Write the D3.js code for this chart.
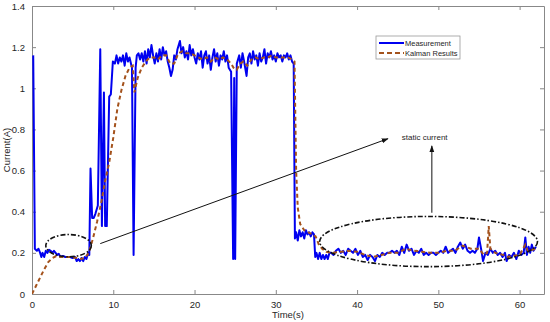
<!DOCTYPE html>
<html>
<head>
<meta charset="utf-8">
<script src="https://cdn.jsdelivr.net/npm/d3@7"></script>
<style>
body { margin: 0; background: #fff; }
text { font-family: "Liberation Sans", Arial, sans-serif; fill: #262626; }
</style>
</head>
<body>
<div id="chart"></div>
<script>
//DATA
var xTicks = [0, 10, 20, 30, 40, 50, 60];
var yTicks = [0, 0.2, 0.4, 0.6, 0.8, 1, 1.2, 1.4];
var seriesNames = ["Measurement", "Kalman Results"];

// measured current [time(s), current(A)]
var measurement = [
    [0.15, 1.16], [0.35, 0.22], [0.6, 0.21], [0.8, 0.22], [1.0, 0.2], [1.15, 0.18], [1.3, 0.2], [1.5, 0.18],
    [1.7, 0.21], [1.9, 0.2], [2.1, 0.215], [2.3, 0.21], [2.5, 0.2], [2.7, 0.21], [2.9, 0.2], [3.1, 0.19],
    [3.3, 0.195], [3.5, 0.18], [3.8, 0.185], [4.1, 0.18], [4.4, 0.18], [4.7, 0.18], [5.0, 0.175], [5.3, 0.18],
    [5.5, 0.16], [5.7, 0.17], [5.9, 0.16], [6.1, 0.175], [6.3, 0.16], [6.5, 0.18], [6.7, 0.17], [6.9, 0.2],
    [7.05, 0.19], [7.2, 0.61], [7.4, 0.37], [7.6, 0.37], [7.8, 0.39], [8.1, 0.43], [8.4, 1.19], [8.6, 0.33],
    [8.85, 0.98], [9.0, 0.33], [9.2, 0.33], [9.5, 0.96], [9.7, 0.97], [9.95, 1.13],
    [10.2, 1.12], [10.4, 1.16], [10.6, 1.12], [10.8, 1.15], [11.0, 1.13], [11.2, 1.16], [11.4, 1.11], [11.6, 1.17],
    [11.8, 1.13], [12.0, 1.15], [12.3, 1.1], [12.5, 0.19], [12.75, 1.1], [12.9, 1.16], [13.1, 1.17], [13.3, 1.14],
    [13.5, 1.17], [13.7, 1.13], [13.9, 1.18], [14.1, 1.12], [14.3, 1.19], [14.5, 1.15], [14.7, 1.21], [14.9, 1.16],
    [15.1, 1.12], [15.3, 1.17], [15.5, 1.13], [15.7, 1.19], [15.9, 1.14], [16.1, 1.2], [16.3, 1.16], [16.5, 1.18],
    [16.7, 1.13], [16.9, 1.1], [17.1, 1.06], [17.3, 1.09], [17.5, 1.16], [17.7, 1.14], [17.9, 1.19], [18.2, 1.23],
    [18.4, 1.17], [18.6, 1.2], [18.8, 1.15], [19.0, 1.18], [19.2, 1.14], [19.4, 1.21], [19.6, 1.16], [19.8, 1.19],
    [20.0, 1.15], [20.2, 1.12], [20.4, 1.17], [20.6, 1.14], [20.8, 1.18], [21.0, 1.1], [21.2, 1.16], [21.4, 1.18],
    [21.6, 1.12], [21.8, 1.16], [22.0, 1.09], [22.2, 1.15], [22.4, 1.19], [22.6, 1.13], [22.8, 1.17], [23.0, 1.11],
    [23.2, 1.16], [23.4, 1.14], [23.6, 1.18], [23.8, 1.13], [24.0, 1.16], [24.2, 1.1], [24.5, 1.08], [24.75, 0.17],
    [24.88, 1.05], [25.0, 0.17], [25.2, 1.12], [25.5, 1.16], [25.7, 1.1], [25.9, 1.17], [26.1, 1.13], [26.4, 1.06],
    [26.6, 1.15], [26.8, 1.17], [27.0, 1.12], [27.2, 1.18], [27.4, 1.14], [27.6, 1.16], [27.8, 1.11], [28.0, 1.17],
    [28.2, 1.13], [28.4, 1.15], [28.6, 1.19], [28.8, 1.12], [29.0, 1.17], [29.2, 1.15], [29.4, 1.18], [29.6, 1.14],
    [29.8, 1.16], [30.0, 1.13], [30.2, 1.17], [30.4, 1.15], [30.6, 1.16], [30.8, 1.13], [31.0, 1.16], [31.2, 1.15],
    [31.4, 1.17], [31.6, 1.14], [31.8, 1.16], [32.0, 1.13], [32.2, 1.12],
    [32.35, 0.27], [32.5, 0.3], [32.7, 0.26], [32.9, 0.31], [33.1, 0.28], [33.3, 0.3], [33.5, 0.27], [33.7, 0.31],
    [33.9, 0.29], [34.1, 0.3], [34.3, 0.28], [34.5, 0.3], [34.7, 0.29], [34.85, 0.18], [35.0, 0.2], [35.2, 0.17],
    [35.4, 0.2], [35.6, 0.17], [35.8, 0.19], [36.0, 0.17], [36.2, 0.19], [36.4, 0.17], [36.6, 0.2],
    [36.8, 0.2], [37.1, 0.19], [37.4, 0.21], [37.7, 0.22], [38.0, 0.2], [38.3, 0.21], [38.6, 0.19], [38.9, 0.22],
    [39.2, 0.21], [39.5, 0.2], [39.8, 0.22], [40.1, 0.19], [40.4, 0.21], [40.7, 0.18], [41.0, 0.19], [41.3, 0.165],
    [41.6, 0.19], [41.9, 0.18], [42.2, 0.16], [42.5, 0.19], [42.8, 0.18], [43.1, 0.2], [43.4, 0.19], [43.7, 0.2],
    [44.0, 0.2], [44.3, 0.21], [44.6, 0.2], [44.9, 0.21], [45.2, 0.19], [45.5, 0.23], [45.8, 0.2], [46.1, 0.24],
    [46.4, 0.21], [46.7, 0.22], [47.0, 0.19], [47.3, 0.21], [47.6, 0.2], [47.9, 0.22], [48.2, 0.19], [48.5, 0.2],
    [48.8, 0.19], [49.1, 0.2], [49.4, 0.2], [49.7, 0.19], [50.0, 0.2], [50.3, 0.21], [50.6, 0.2], [50.9, 0.23],
    [51.2, 0.2], [51.5, 0.21], [51.8, 0.22], [52.1, 0.2], [52.4, 0.23], [52.7, 0.25], [53.0, 0.22], [53.3, 0.24],
    [53.6, 0.21], [53.9, 0.2], [54.2, 0.21], [54.5, 0.2], [54.8, 0.22], [55.0, 0.275], [55.3, 0.21], [55.5, 0.16],
    [55.8, 0.2], [56.1, 0.19], [56.4, 0.22], [56.7, 0.2], [57.0, 0.21], [57.3, 0.19], [57.6, 0.2], [57.9, 0.18],
    [58.2, 0.2], [58.4, 0.16], [58.7, 0.19], [59.0, 0.18], [59.3, 0.2], [59.6, 0.17], [59.9, 0.21], [60.2, 0.19],
    [60.5, 0.2], [60.7, 0.275], [60.9, 0.19], [61.1, 0.23], [61.3, 0.2], [61.5, 0.24], [61.7, 0.21], [62.0, 0.23]
];

// filtered estimate [time(s), current(A)]
var kalman = [
    [0, 0], [0.5, 0.04], [1.0, 0.08], [1.5, 0.12], [2.0, 0.155], [2.5, 0.175], [3, 0.185], [3.5, 0.18],
    [4, 0.18], [4.5, 0.18], [5, 0.178], [5.5, 0.175], [6, 0.17], [6.5, 0.175], [7, 0.2], [7.5, 0.27],
    [8, 0.35], [8.5, 0.44], [9, 0.55], [9.5, 0.64], [10, 0.76], [10.5, 0.9], [11, 0.99], [11.5, 1.06],
    [12, 1.1], [12.4, 1.11], [12.6, 0.98], [13, 1.05], [13.5, 1.1], [14, 1.13], [14.5, 1.15], [15, 1.15],
    [15.5, 1.14], [16, 1.16], [16.5, 1.16], [17, 1.12], [17.5, 1.12], [18, 1.17], [18.5, 1.18], [19, 1.17],
    [19.5, 1.17], [20, 1.16], [20.5, 1.15], [21, 1.14], [21.5, 1.15], [22, 1.13], [22.5, 1.15], [23, 1.14],
    [23.5, 1.15], [24, 1.14], [24.5, 1.12], [24.8, 1.1], [25.2, 1.09], [25.6, 1.12], [26, 1.13], [26.5, 1.11],
    [27, 1.14], [27.5, 1.15], [28, 1.14], [28.5, 1.15], [29, 1.15], [29.5, 1.16], [30, 1.15], [30.5, 1.15],
    [31, 1.15], [31.5, 1.15], [32, 1.14], [32.3, 1.13], [32.5, 0.6], [32.7, 0.42], [33, 0.34], [33.5, 0.31],
    [34, 0.3], [34.5, 0.29], [34.9, 0.28], [35.3, 0.24], [35.7, 0.22], [36.2, 0.205], [37, 0.2], [38, 0.205],
    [39, 0.21], [40, 0.205], [41, 0.19], [42, 0.18], [43, 0.19], [44, 0.2], [45, 0.2], [46, 0.22],
    [47, 0.21], [48, 0.205], [49, 0.2], [50, 0.2], [51, 0.21], [52, 0.21], [53, 0.235], [54, 0.22],
    [55, 0.22], [55.6, 0.19], [56.0, 0.2], [56.2, 0.33], [56.4, 0.22], [57, 0.2], [58, 0.19], [58.5, 0.18],
    [59, 0.185], [60, 0.19], [60.7, 0.24], [61, 0.21], [62, 0.22]
];

// annotation in data units
var noteText = "static current";
var noteAt = [45.5, 0.75];
var smallEllipse = { cx: 4.5, cy: 0.235, rx: 2.8, ry: 0.054 };
var bigEllipse = { cx: 48.8, cy: 0.255, rx: 13.4, ry: 0.122 };

/*---------------------------------------SETUP--------------------------------------*/
var W = 550, H = 322;
var margin = { top: 6, right: 6, bottom: 28, left: 32 },
    width = W - margin.left - margin.right,
    height = H - margin.top - margin.bottom;

var svg = d3.select("#chart").append("svg")
    .attr("width", W)
    .attr("height", H);

var g = svg.append("g")
    .attr("transform", "translate(" + margin.left + "," + margin.top + ")");

var x = d3.scaleLinear().domain([0, 63]).range([0, width]);
var y = d3.scaleLinear().domain([0, 1.4]).range([height, 0]);

svg.append("defs").append("clipPath").attr("id", "clip")
    .append("rect").attr("width", width).attr("height", height);

// matlab style box, ticks inside on all four sides
function styleAxis(sel) {
    sel.select(".domain").attr("stroke", "#888").attr("stroke-width", 1);
    sel.selectAll(".tick line").attr("stroke", "#888");
    sel.selectAll(".tick text").style("font-size", "9.5px").attr("fill", "#333");
}

g.append("g").attr("transform", "translate(0," + height + ")")
    .call(d3.axisBottom(x).tickValues(xTicks).tickSizeInner(-4).tickSizeOuter(0).tickPadding(7))
    .call(styleAxis);
g.append("g")
    .call(d3.axisTop(x).tickValues(xTicks).tickSizeInner(-4).tickSizeOuter(0).tickFormat(""))
    .call(styleAxis);
g.append("g")
    .call(d3.axisLeft(y).tickValues(yTicks).tickSizeInner(-4).tickSizeOuter(0).tickPadding(7).tickFormat(d3.format("")))
    .call(styleAxis);
g.append("g").attr("transform", "translate(" + width + ",0)")
    .call(d3.axisRight(y).tickValues(yTicks).tickSizeInner(-4).tickSizeOuter(0).tickFormat(""))
    .call(styleAxis);

// axis titles
svg.append("text")
    .attr("x", margin.left + x(31.5))
    .attr("y", 318)
    .attr("text-anchor", "middle")
    .style("font-size", "9.5px")
    .text("Time(s)");

svg.append("text")
    .attr("transform", "translate(10," + (margin.top + y(0.7)) + ") rotate(-90)")
    .attr("text-anchor", "middle")
    .style("font-size", "9.5px")
    .text("Current(A)");

/*---------------------------------------LINES--------------------------------------*/
var line = d3.line()
    .x(function(d) { return x(d[0]); })
    .y(function(d) { return y(d[1]); });

var plot = g.append("g").attr("clip-path", "url(#clip)");

plot.append("path")
    .datum(measurement)
    .attr("fill", "none")
    .attr("stroke", "#0000f0")
    .attr("stroke-width", 2)
    .attr("stroke-linejoin", "round")
    .attr("d", line);

plot.append("path")
    .datum(kalman)
    .attr("fill", "none")
    .attr("stroke", "#a4521c")
    .attr("stroke-width", 2)
    .attr("stroke-dasharray", "4,3")
    .attr("d", line);

/*---------------------------------------ANNOTATIONS--------------------------------------*/
svg.append("defs").append("marker")
    .attr("id", "arrow")
    .attr("viewBox", "0 0 10 10")
    .attr("refX", 9).attr("refY", 5)
    .attr("markerWidth", 7).attr("markerHeight", 7)
    .attr("orient", "auto")
    .append("path").attr("d", "M0,1.5 L10,5 L0,8.5 z").attr("fill", "#111");

var ellipses = [smallEllipse, bigEllipse];
g.selectAll(".ring")
    .data(ellipses)
    .enter()
    .append("ellipse")
    .attr("class", "ring")
    .attr("cx", function(d) { return x(d.cx); })
    .attr("cy", function(d) { return y(d.cy); })
    .attr("rx", function(d) { return x(d.rx) - x(0); })
    .attr("ry", function(d) { return y(0) - y(d.ry); })
    .attr("fill", "none")
    .attr("stroke", "#111")
    .attr("stroke-width", 1.6)
    .attr("stroke-dasharray", "5,2,1.5,2");

// arrow from small ellipse to the text
g.append("line")
    .attr("x1", x(8.4)).attr("y1", y(0.245))
    .attr("x2", x(43.8)).attr("y2", y(0.755))
    .attr("stroke", "#111").attr("stroke-width", 1)
    .attr("marker-end", "url(#arrow)");

// arrow from big ellipse up to the text
g.append("line")
    .attr("x1", x(49.2)).attr("y1", y(0.395))
    .attr("x2", x(49.2)).attr("y2", y(0.72))
    .attr("stroke", "#111").attr("stroke-width", 1)
    .attr("marker-end", "url(#arrow)");

g.append("text")
    .attr("x", x(noteAt[0]))
    .attr("y", y(noteAt[1]))
    .style("font-size", "8px")
    .text(noteText);

/*---------------------------------------LEGEND--------------------------------------*/
var legend = svg.append("g").attr("transform", "translate(376,36)");
legend.append("rect")
    .attr("width", 84).attr("height", 23)
    .attr("fill", "#fff").attr("stroke", "#999").attr("stroke-width", 0.8);

var legendRows = legend.selectAll(".row")
    .data(seriesNames)
    .enter()
    .append("g")
    .attr("class", "row")
    .attr("transform", function(d, i) { return "translate(0," + (7 + i * 10) + ")"; });

legendRows.append("line")
    .attr("x1", 3).attr("x2", 28)
    .attr("stroke", function(d, i) { return i == 0 ? "#0000f0" : "#a4521c"; })
    .attr("stroke-width", 2)
    .attr("stroke-dasharray", function(d, i) { return i == 0 ? null : "5,3"; });

legendRows.append("text")
    .attr("x", 29).attr("y", 3)
    .style("font-size", "7.5px")
    .text(function(d) { return d; });
</script>
</body>
</html>
